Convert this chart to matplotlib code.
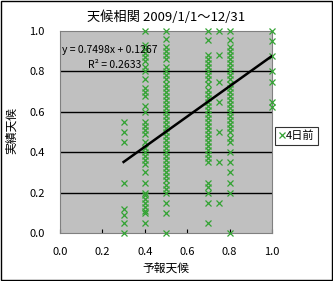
import matplotlib
matplotlib.use("Agg")
import matplotlib.pyplot as plt
import numpy as np

plt.rcParams['font.family'] = ['Noto Sans CJK JP', 'DejaVu Sans']

# forecast values (x) and observed values (y) per column
col_03 = [0.55, 0.5, 0.45, 0.25, 0.12, 0.09, 0.05, 0.0]
col_04 = [1.0, 0.93, 0.91, 0.89, 0.87, 0.85, 0.82, 0.8, 0.76, 0.72, 0.7, 0.68,
          0.63, 0.6, 0.55, 0.53, 0.51, 0.49, 0.45, 0.42, 0.4, 0.38, 0.36, 0.34,
          0.3, 0.25, 0.2, 0.19, 0.17, 0.15, 0.13, 0.11, 0.1, 0.05]
col_05 = [1.0, 0.96, 0.92, 0.9, 0.88, 0.86, 0.82, 0.8, 0.78, 0.76, 0.74, 0.72,
          0.7, 0.68, 0.66, 0.64, 0.62, 0.6, 0.58, 0.56, 0.54, 0.52, 0.5, 0.48,
          0.46, 0.44, 0.42, 0.4, 0.38, 0.36, 0.34, 0.32, 0.3, 0.28, 0.26, 0.24,
          0.22, 0.2, 0.15, 0.1, 0.0]
col_07 = [1.0, 0.955, 0.88, 0.86, 0.84, 0.82, 0.8, 0.78, 0.76, 0.74, 0.71, 0.69,
          0.67, 0.65, 0.63, 0.61, 0.59, 0.57, 0.55, 0.53, 0.51, 0.49, 0.47, 0.45,
          0.43, 0.41, 0.39, 0.37, 0.35, 0.25, 0.23, 0.2, 0.15, 0.05]
col_075 = [1.0, 0.88, 0.75, 0.65, 0.5, 0.35, 0.15]
col_08 = [1.0, 0.955, 0.92, 0.9, 0.88, 0.86, 0.84, 0.82, 0.8, 0.78, 0.76, 0.74,
          0.72, 0.7, 0.68, 0.66, 0.64, 0.62, 0.6, 0.58, 0.56, 0.54, 0.52, 0.5,
          0.47, 0.45, 0.4, 0.35, 0.3, 0.25, 0.2, 0.0]
col_10 = [1.0, 0.95, 0.875, 0.8, 0.75, 0.65, 0.625]

columns = {0.3: col_03, 0.4: col_04, 0.5: col_05, 0.7: col_07,
           0.75: col_075, 0.8: col_08, 1.0: col_10}

slope = 0.7498
intercept = 0.1267
r2 = 0.2633

xs = []
ys = []
for k, v in columns.items():
    xs += [k]*len(v)
    ys += v
xs = np.array(xs)
ys = np.array(ys)

fig = plt.figure(figsize=(3.33, 2.81), dpi=100)
fig.patch.set_facecolor('white')
ax = fig.add_axes([60/333, 1-233/281, 212/333, 202/281])
ax.set_facecolor('#C0C0C0')
for s in ax.spines.values():
    s.set_color('#808080')
    s.set_linewidth(0.8)

ticks = np.arange(0, 1.01, 0.2)
ax.set_xlim(0, 1)
ax.set_ylim(0, 1)
ax.set_yticks(ticks)
ax.set_xticks(ticks)
ax.set_yticklabels(['%.1f' % t for t in ticks], fontsize=8)
ax.set_xticklabels(['%.1f' % t for t in ticks], fontsize=8)
ax.tick_params(axis='y', length=0, pad=11)
ax.tick_params(axis='x', direction='in', length=3, pad=10, color='black')
for g in [0.2, 0.4, 0.6, 0.8]:
    ax.axhline(g, color='black', lw=1, zorder=1)

ax.plot(xs, ys, 'x', color='#33A333', ms=5, mew=0.9, clip_on=False, zorder=3,
        label='4日前')

lx = np.array([xs.min(), xs.max()])
ax.plot(lx, slope*lx + intercept, color='black', lw=1.8, zorder=4)

ax.text(0.01, 0.905, 'y = %.4fx + %.4f' % (slope, intercept), transform=ax.transAxes,
        fontsize=7.5, va='center', ha='left', zorder=5)
ax.text(0.13, 0.83, 'R² = %.4f' % r2, transform=ax.transAxes,
        fontsize=7.5, va='center', ha='left', zorder=5)

fig.text(166/333, 1-17/281, '天候相関 2009/1/1～12/31', ha='center', va='center',
         fontsize=9.5)
fig.text(166/333, 1-268/281, '予報天候', ha='center', va='center', fontsize=8.5)
fig.text(12/333, 1-130/281, '実績天候', ha='center', va='center', fontsize=8.5,
         rotation=90)

leg = ax.legend(loc='center left', bbox_to_anchor=(275/333, 1-136/281),
                bbox_transform=fig.transFigure, frameon=True, fontsize=8,
                handlelength=0.6, handletextpad=0.1, borderpad=0.3,
                fancybox=False, borderaxespad=0)
leg.get_frame().set_edgecolor('black')
leg.get_frame().set_linewidth(0.8)

fig.add_artist(plt.Rectangle((0.002, 0.002), 0.995, 0.995, transform=fig.transFigure,
                             fill=False, edgecolor='black', lw=1))

fig.savefig('out.png', dpi=100)
